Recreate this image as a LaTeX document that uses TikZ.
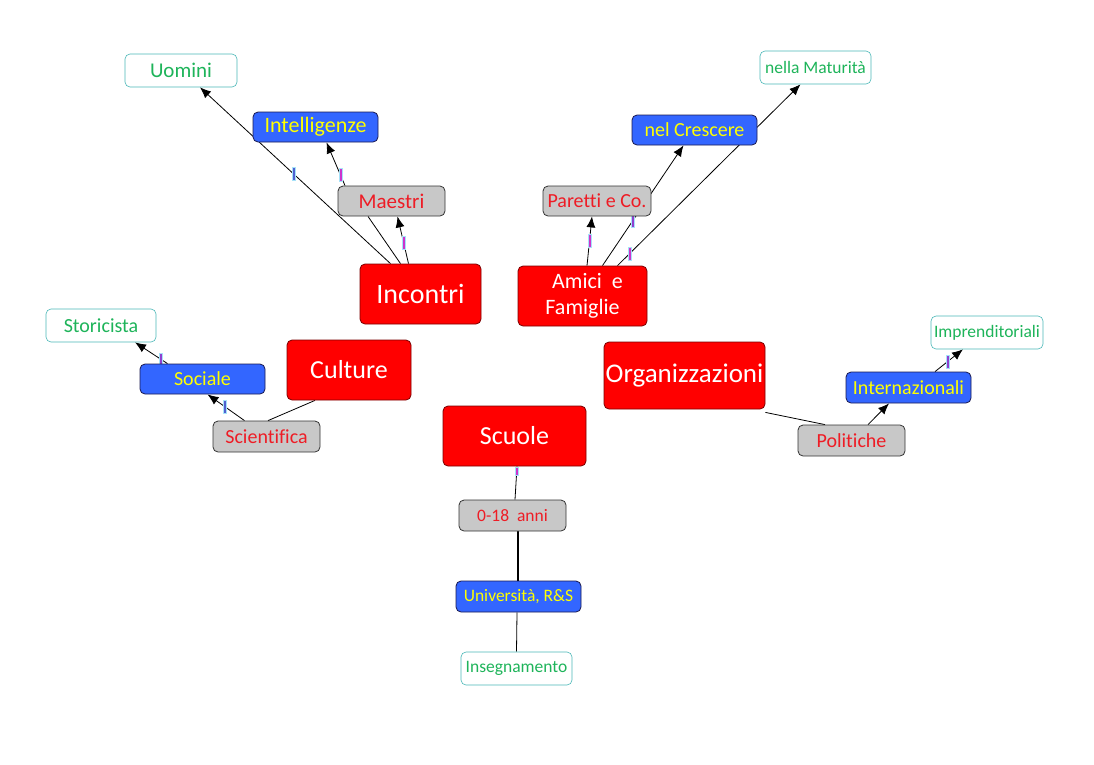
\documentclass[tikz,border=0pt]{standalone}
\usepackage{fontspec}
\setmainfont{Carlito}[Ligatures={NoCommon}]
\usetikzlibrary{positioning,backgrounds,arrows.meta}

\definecolor{rosso}{HTML}{FF0000}
\definecolor{bordorosso}{HTML}{7A0000}
\definecolor{blu}{HTML}{3366FF}
\definecolor{bordoblu}{HTML}{1A1A50}
\definecolor{grigio}{HTML}{C8C8C8}
\definecolor{testorosso}{HTML}{EE1C25}
\definecolor{giallo}{HTML}{FFFF00}
\definecolor{verde}{HTML}{1EB45A}
\definecolor{bordoverde}{HTML}{4BB8B8}
\definecolor{magenta}{HTML}{CC33CC}
\definecolor{viola}{HTML}{5060D0}
\definecolor{violetto}{HTML}{9040D0}

\begin{document}
\begin{tikzpicture}
  [x=1pt,y=-1pt,>={Latex[length=11pt,width=9pt]},
   box/.style={rounded corners=5pt,inner sep=0pt,align=center,line width=0.8pt},
   redbox/.style={box,fill=rosso,draw=bordorosso,text=white,font=\fontsize{26}{30}\selectfont},
   greybox/.style={box,fill=grigio,draw=black!80,text=testorosso,font=\fontsize{20}{24}\selectfont,minimum width=107pt,minimum height=31pt},
   bluebox/.style={box,fill=blu,draw=bordoblu,text=giallo,font=\fontsize{20}{24}\selectfont,minimum width=125pt,minimum height=31pt},
   greenbox/.style={box,fill=white,draw=bordoverde,line width=0.6pt,text=verde,font=\fontsize{17.5}{21}\selectfont,minimum width=111pt,minimum height=33pt},
   tickbar/.style={fill=#1,draw=cyan!35,line width=0.4pt,minimum width=3.2pt,minimum height=13pt,inner sep=0pt},
   conn/.style={line width=0.8pt}]

  \useasboundingbox (0,0) rectangle (1094,764);

  % main topics
  \node[redbox,minimum width=121pt,minimum height=60pt,font=\fontsize{28}{32}\selectfont] (incontri) at (420.5,294) {Incontri};
  \node[redbox,minimum width=129pt,minimum height=60pt,font=\fontsize{22}{26}\selectfont] (amici) at (582.5,296) {\hspace{10pt}Amici\ \ e\\Famiglie};
  \node[redbox,minimum width=124pt,minimum height=60pt] (culture) at (349,370) {Culture};
  \node[redbox,minimum width=161pt,minimum height=67pt,font=\fontsize{27}{31}\selectfont] (organizzazioni) at (684.5,375.5) {Organizzazioni};
  \node[redbox,minimum width=143pt,minimum height=60pt] (scuole) at (514.5,436) {Scuole};

  % Incontri
  \node[greybox,minimum height=30pt,font=\fontsize{21}{25}\selectfont] (maestri) at (391.5,201) {Maestri};
  \node[bluebox,minimum height=30pt,font=\fontsize{22}{26}\selectfont] (intelligenze) at (315.5,127) {Intelligenze};
  \node[greenbox,minimum width=112pt,font=\fontsize{21}{25}\selectfont] (uomini) at (181,70.5) {Uomini};

  % Amici e Famiglie
  \node[greybox,minimum width=108pt,minimum height=30pt] (paretti) at (597,201) {Paretti e Co.};
  \node[bluebox,minimum height=30pt] (crescere) at (694.5,130) {nel Crescere};
  \node[greenbox] (maturita) at (815.5,67.5) {nella Maturità};

  % Culture
  \node[greybox] (scientifica) at (266.5,436.5) {Scientifica};
  \node[bluebox,minimum height=30pt] (sociale) at (202.5,379) {Sociale};
  \node[greenbox,minimum width=110pt,font=\fontsize{20}{24}\selectfont] (storicista) at (101,325.5) {Storicista};

  % Scuole
  \node[greybox,font=\fontsize{17.5}{21}\selectfont] (anni) at (512.5,515.5) {0-18\ \ anni};
  \node[bluebox,font=\fontsize{17.5}{21}\selectfont] (universita) at (518.5,596.5) {Università, R\&S};
  \node[greenbox] (insegnamento) at (516.5,668.5) {Insegnamento};

  % Organizzazioni
  \node[greybox] (politiche) at (851.5,440.5) {Politiche};
  \node[bluebox] (internazionali) at (908.5,387.5) {Internazionali};
  \node[greenbox,minimum width=112pt] (imprenditoriali) at (987,332.5) {Imprenditoriali};

  \begin{scope}[on background layer]
    \draw[conn,->] ([xshift=-30pt]incontri.north) -- node[tickbar=viola,pos=0.51] {} ([xshift=19pt]uomini.south);
    \draw[conn] ([xshift=-20pt]incontri.north) -- ([xshift=-23.5pt]maestri.south);
    \draw[conn,->] ([xshift=-12pt]incontri.north) -- node[tickbar=magenta,pos=0.45] {} ([xshift=6pt]maestri.south);
    \draw[conn,->] ([xshift=-46.5pt]maestri.north) -- node[tickbar=magenta,pos=0.25] {} ([xshift=11pt]intelligenze.south);

    \draw[conn,->] ([xshift=4.5pt]amici.north) -- node[tickbar=magenta,pos=0.5] {} ([xshift=-5pt]paretti.south);
    \draw[conn,->] ([xshift=20pt]amici.north) -- node[tickbar=violetto,pos=0.37] {} ([xshift=-11pt]crescere.south);
    \draw[conn,->] ([xshift=35pt]amici.north) -- node[tickbar=magenta,pos=0.065] {} ([xshift=-15pt]maturita.south);

    \draw[conn,->] ([xshift=-22pt]scientifica.north) -- node[tickbar=viola,pos=0.54] {} ([xshift=5pt]sociale.south);
    \draw[conn,->] ([xshift=-35pt]sociale.north) -- node[tickbar=violetto,pos=0.2] {} ([xshift=34pt]storicista.south);
    \draw[conn] ([xshift=1.5pt]scientifica.north) -- ([xshift=-34pt]culture.south);

    \draw[conn] ([xshift=2.5pt]scuole.south) -- node[tickbar=magenta,pos=0.15,minimum height=8pt] {} ([xshift=2.5pt]anni.south |- anni.north);
    \draw[conn,line width=1.2pt] ([xshift=5.5pt]anni.south) -- ([xshift=-0.5pt]universita.north);
    \draw[conn] ([xshift=-1.5pt]universita.south) -- (insegnamento.north);

    \draw[conn] ([yshift=-3pt]organizzazioni.south east) -- ([xshift=-26.5pt]politiche.north);
    \draw[conn,->] ([xshift=16.5pt]politiche.north) -- ([xshift=-19.5pt]internazionali.south);
    \draw[conn,->] ([xshift=26.5pt]internazionali.north) -- node[tickbar=violetto,pos=0.45] {} ([xshift=-24pt]imprenditoriali.south);
  \end{scope}
\end{tikzpicture}
\end{document}
